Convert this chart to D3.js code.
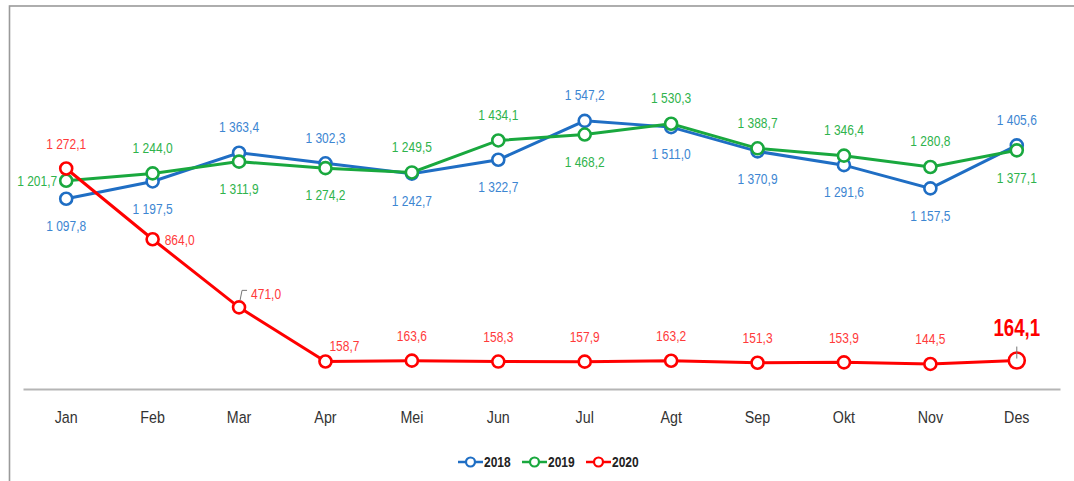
<!DOCTYPE html>
<html>
<head>
<meta charset="utf-8">
<script src="https://cdn.jsdelivr.net/npm/d3@7"></script>
<style>
  body { margin: 0; background: #fff; }
  text { font-family: "Liberation Sans", Arial, sans-serif; }
</style>
</head>
<body>
<script>
// data
var months = ["Jan", "Feb", "Mar", "Apr", "Mei", "Jun", "Jul", "Agt", "Sep", "Okt", "Nov", "Des"];
var years = ["2018", "2019", "2020"];
var v2018 = [1097.8, 1197.5, 1363.4, 1302.3, 1242.7, 1322.7, 1547.2, 1511.0, 1370.9, 1291.6, 1157.5, 1405.6];
var v2019 = [1201.7, 1244.0, 1311.9, 1274.2, 1249.5, 1434.1, 1468.2, 1530.3, 1388.7, 1346.4, 1280.8, 1377.1];
var v2020 = [1272.1, 864.0, 471.0, 158.7, 163.6, 158.3, 157.9, 163.2, 151.3, 153.9, 144.5, 164.1];
// where each data label sits relative to its point
var pos2018 = ["b", "b", "a", "a", "b", "b", "a", "b", "b", "b", "b", "a"];
var pos2019 = ["l", "a", "b", "b", "a", "a", "b", "a", "a", "a", "a", "b"];
var pos2020 = ["a", "r", "r", "ar", "a", "a", "a", "a", "a", "a", "a", "a"];

var series = [
  {name: years[0], values: v2018, pos: pos2018, line: "#1f6ec4", label: "#3d86d2"},
  {name: years[1], values: v2019, pos: pos2019, line: "#19a83e", label: "#2fb34c"},
  {name: years[2], values: v2020, pos: pos2020, line: "#ff0000", label: "#ff3a3a"}
];

var width = 1074, height = 481;
var margin = {left: 23, right: 14};
// the original uses a narrow font, squeeze text horizontally
var squeeze = 0.8;

var svg = d3.select("body").append("svg")
    .attr("width", width)
    .attr("height", height);

// outer frame (only top and left visible in the picture)
svg.append("rect")
    .attr("x", 9.5).attr("y", 6)
    .attr("width", 1100).attr("height", 500)
    .attr("fill", "none")
    .attr("stroke", "#9a9a9a")
    .attr("stroke-width", 1.6);

var x = d3.scaleBand()
    .domain(months)
    .range([margin.left, width - margin.right]);

var y = d3.scaleLinear()
    .domain([0, 1600])
    .range([389, 111.7]);

function cx(i) { return x(months[i]) + x.bandwidth() / 2; }

function fmt(v) {
  var s = d3.format(",.1f")(v);
  return s.replace(/,/g, " ").replace(".", ",");
}

// x axis
var xAxis = svg.append("g")
    .attr("transform", "translate(0,389)")
    .call(d3.axisBottom(x).tickSize(0).tickPadding(22));
xAxis.select(".domain").attr("stroke", "#b5b5b5").attr("stroke-width", 2);
xAxis.selectAll("text")
    .attr("fill", "#333")
    .attr("transform", "scale(0.84,1)")
    .style("font-size", "17px");

var line = d3.line()
    .x(function(d, i) { return cx(i); })
    .y(function(d) { return y(d); });

series.forEach(function(s) {
  var g = svg.append("g");
  g.append("path")
      .datum(s.values)
      .attr("fill", "none")
      .attr("stroke", s.line)
      .attr("stroke-width", 3)
      .attr("d", line);

  g.selectAll("circle")
      .data(s.values)
    .enter().append("circle")
      .attr("cx", function(d, i) { return cx(i); })
      .attr("cy", function(d) { return y(d); })
      .attr("r", function(d, i) { return (s.name === "2020" && i === 11) ? 8 : 6; })
      .attr("fill", "#fff")
      .attr("stroke", s.line)
      .attr("stroke-width", 2.6);
});

// data labels
series.forEach(function(s) {
  svg.append("g").selectAll("text")
      .data(s.values)
    .enter().append("text")
      .attr("transform", function(d, i) {
        var tx = cx(i), ty = y(d), p = s.pos[i];
        if (p === "l") tx -= 9;
        else if (p === "r") tx += 12;
        else if (p === "ar") tx += 19;

        if (s.name === "2020" && i === 11) ty -= 33;
        else if (p === "a") ty -= (s.name === "2020" ? 25 : 26);
        else if (p === "b") ty += 27;
        else if (p === "ar") ty -= 16;
        else if (p === "r" && i === 2) ty -= 14;
        var k = (s.name === "2020" && i === 11) ? 0.78 : squeeze;
        return "translate(" + tx + "," + ty + ") scale(" + k + ",1)";
      })
      .attr("dy", "0.35em")
      .attr("text-anchor", function(d, i) {
        var p = s.pos[i];
        if (p === "l") return "end";
        if (p === "r") return "start";
        return "middle";
      })
      .attr("fill", function(d, i) { return (s.name === "2020" && i === 11) ? "#ff0000" : s.label; })
      .style("font-size", function(d, i) { return (s.name === "2020" && i === 11) ? "24px" : "15px"; })
      .style("font-weight", function(d, i) { return (s.name === "2020" && i === 11) ? "bold" : "normal"; })
      .text(function(d) { return fmt(d); });
});

// small leader lines on Mar and Des of 2020
var mx = cx(2), my = y(v2020[2]);
svg.append("path")
    .attr("d", "M" + (mx + 1) + "," + (my - 7) + "L" + (mx + 3) + "," + (my - 17) + "L" + (mx + 8) + "," + (my - 17))
    .attr("fill", "none").attr("stroke", "#777").attr("stroke-width", 1);
var dx = cx(11), dy = y(v2020[11]);
svg.append("line")
    .attr("x1", dx).attr("x2", dx)
    .attr("y1", dy - 14).attr("y2", dy - 2)
    .attr("stroke", "#777").attr("stroke-width", 1);

// legend
var legend = svg.append("g").attr("transform", "translate(458,462)");
series.forEach(function(s, i) {
  var item = legend.append("g").attr("transform", "translate(" + (i * 64) + ",0)");
  item.append("line")
      .attr("x1", 0).attr("x2", 25)
      .attr("stroke", s.line).attr("stroke-width", 2.5);
  item.append("circle")
      .attr("cx", 12.5).attr("r", 4.5)
      .attr("fill", "#fff").attr("stroke", s.line).attr("stroke-width", 2.2);
  item.append("text")
      .attr("transform", "translate(26,0) scale(0.8,1)")
      .attr("dy", "0.35em")
      .attr("fill", "#222")
      .style("font-size", "15px")
      .style("font-weight", "bold")
      .text(s.name);
});
</script>
</body>
</html>
